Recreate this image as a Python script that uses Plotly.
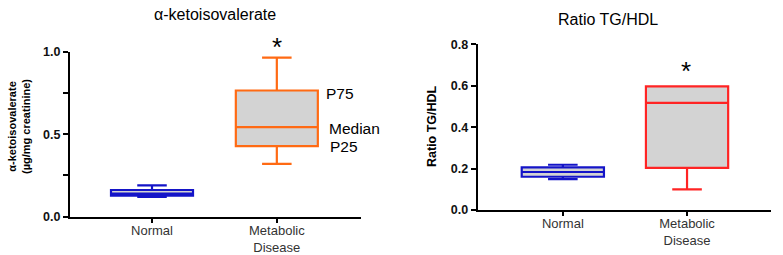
import plotly.graph_objects as go

categories = ["Normal", "Metabolic<br>Disease"]

# alpha-ketoisovalerate (µg/mg creatinine)
kiv_lower = [0.12, 0.32]
kiv_q1 = [0.127, 0.428]
kiv_median = [0.14, 0.542]
kiv_q3 = [0.162, 0.764]
kiv_upper = [0.19, 0.963]

# Ratio TG/HDL
tg_lower = [0.15, 0.10]
tg_q1 = [0.161, 0.204]
tg_median = [0.184, 0.518]
tg_q3 = [0.206, 0.597]
tg_upper = [0.219, 0.597]

colors_left = ["#1414c8", "#ff6a13"]
colors_right = ["#1414c8", "#ff2424"]

FONT = "Liberation Sans, Arial, sans-serif"

fig = go.Figure()

for i, cat in enumerate(categories):
    fig.add_trace(go.Box(
        x=[cat], q1=[kiv_q1[i]], median=[kiv_median[i]], q3=[kiv_q3[i]],
        lowerfence=[kiv_lower[i]], upperfence=[kiv_upper[i]],
        line=dict(color=colors_left[i], width=2.2), fillcolor="#d3d3d3",
        width=0.657, whiskerwidth=0.36, boxpoints=False,
        xaxis="x", yaxis="y", showlegend=False, hoverinfo="skip"))
    fig.add_trace(go.Box(
        x=[cat], q1=[tg_q1[i]], median=[tg_median[i]], q3=[tg_q3[i]],
        lowerfence=[tg_lower[i]], upperfence=[tg_upper[i]],
        line=dict(color=colors_right[i], width=2.2), fillcolor="#d3d3d3",
        width=0.662, whiskerwidth=0.36, boxpoints=False,
        xaxis="x2", yaxis="y2", showlegend=False, hoverinfo="skip"))

axis_common = dict(showline=True, linecolor="black", linewidth=2, ticks="outside",
                   tickwidth=1.5, tickcolor="black", showgrid=False,
                   zeroline=False, mirror=False, automargin=False)

xtickfont = dict(size=13, color="#333", family=FONT)
ytickfont = dict(size=12.5, family=FONT, weight="bold", color="#111")

fig.update_layout(
    template="none",
    width=783, height=255,
    margin=dict(l=0, r=0, t=0, b=0, pad=0),
    paper_bgcolor="white", plot_bgcolor="white",
    font=dict(family=FONT, color="black"),
    xaxis=dict(domain=[0.0894, 0.461], type="category", range=[-0.657, 1.674],
               tickfont=xtickfont, ticklen=4, ticklabelstandoff=-3,
               anchor="y", **axis_common),
    yaxis=dict(domain=[0.150, 0.798], range=[0, 1.0], tickvals=[0, 0.5, 1.0],
               ticktext=["0.0", "0.5", "1.0"], tickfont=ytickfont, ticklen=5,
               minor=dict(tickvals=[0.25, 0.75], ticks="outside", ticklen=5,
                          tickcolor="black", tickwidth=1.5, showgrid=False),
               anchor="x", **axis_common),
    xaxis2=dict(domain=[0.610, 0.985], type="category", range=[-0.686, 1.678],
                tickfont=xtickfont, ticklen=4, ticklabelstandoff=-4,
                anchor="y2", **axis_common),
    yaxis2=dict(domain=[0.176, 0.826], range=[0, 0.8],
                tickvals=[0, 0.2, 0.4, 0.6, 0.8],
                ticktext=["0.0", "0.2", "0.4", "0.6", "0.8"],
                tickfont=ytickfont, ticklen=5, anchor="x2", **axis_common),
)

ann = []
# Titles
ann.append(dict(text="α-ketoisovalerate", x=215, y=14, showarrow=False,
                font=dict(size=16)))
ann.append(dict(text="Ratio TG/HDL", x=608, y=20, showarrow=False,
                font=dict(size=16)))
# Y-axis titles
ann.append(dict(text="<b>α-ketoisovalerate<br>(µg/mg creatinine)</b>", x=19, y=127,
                showarrow=False, textangle=-90, font=dict(size=11)))
ann.append(dict(text="<b>Ratio TG/HDL</b>", x=432, y=126, showarrow=False,
                textangle=-90, font=dict(size=12.5)))
# Percentile labels
for txt, x, y in [("P75", 339.5, 93), ("Median", 354, 128.5), ("P25", 344, 146)]:
    ann.append(dict(text=txt, x=x, y=y, showarrow=False, font=dict(size=15.5)))
# Significance markers
ann.append(dict(text="*", x=277, y=47, showarrow=False, font=dict(size=26)))
ann.append(dict(text="*", x=686, y=71, showarrow=False, font=dict(size=26)))

for a in ann:
    a["xref"] = "paper"
    a["yref"] = "paper"
    a["x"] = a["x"] / 783
    a["y"] = 1 - a["y"] / 255
    a["xanchor"] = "center"
    a["yanchor"] = "middle"
fig.update_layout(annotations=ann)

fig.write_html("out.html")
